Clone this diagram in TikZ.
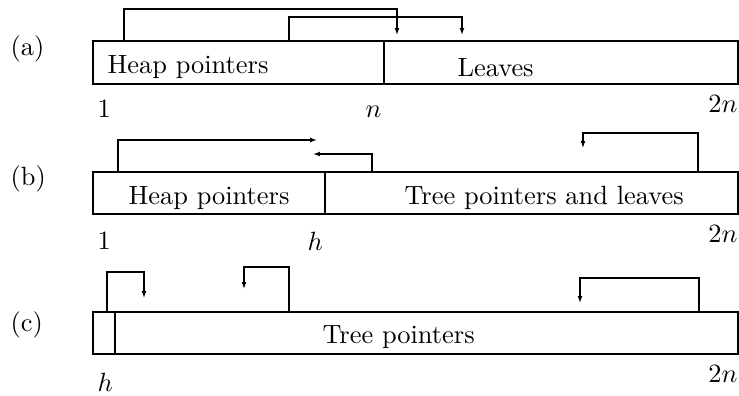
\documentclass[tikz,border=0pt]{standalone}
\usetikzlibrary{arrows.meta}
\begin{document}
\begin{tikzpicture}[x=0.3788pt,y=-0.3788pt,line width=0.45pt,
  ptr/.style={-{Latex[length=2.6pt,width=1.8pt]}},
  lbl/.style={anchor=base west,inner sep=0pt},
  rlbl/.style={anchor=base east,inner sep=0pt}]
\useasboundingbox (0,0) rectangle (739,395);
% ---------- (a)
\node[lbl] (la) at (10,55) {(a)};
\draw (93,41) rectangle (738,84);
\draw (384,41) -- (384,84);
\node[lbl] (ahp) at (107,73) {Heap pointers};
\node[lbl] (alv) at (457,76) {Leaves};
\node[lbl] (a1) at (97,117) {1};
\node[lbl] (an) at (365,117) {$n$};
\node[rlbl] (a2n) at (738,112) {$2n$};
\coordinate (aas) at (124,41); \coordinate (aat) at (397,9); \coordinate (aae) at (397,35);
\coordinate (abs) at (289,41); \coordinate (abt) at (462,17); \coordinate (abe) at (462,35);
\draw[ptr] (aas) |- (aat) -- (aae);
\draw[ptr] (abs) |- (abt) -- (abe);
% ---------- (b)
\node[lbl] (lb) at (10,185) {(b)};
\draw (93,172) rectangle (738,214);
\draw (325,172) -- (325,214);
\node[lbl] (bhp) at (128,204) {Heap pointers};
\node[lbl] (btp) at (404,204) {Tree pointers and leaves};
\node[lbl] (b1) at (97,249) {1};
\node[lbl] (bh) at (307,250) {$h$};
\node[rlbl] (b2n) at (738,242) {$2n$};
\coordinate (bas) at (118,172); \coordinate (bae) at (317,140);
\coordinate (bbs) at (372,172); \coordinate (bbe) at (313,154);
\coordinate (bcs) at (698,172); \coordinate (bct) at (583,133); \coordinate (bce) at (583,148);
\draw[ptr] (bas) |- (bae);
\draw[ptr] (bbs) |- (bbe);
\draw[ptr] (bcs) |- (bct) -- (bce);
% ---------- (c)
\node[lbl] (lc) at (10,331) {(c)};
\draw (93,312) rectangle (738,354);
\draw (115,312) -- (115,354);
\node[lbl] (ctp) at (322,343) {Tree pointers};
\node[lbl] (ch) at (97,391) {$h$};
\node[rlbl] (c2n) at (738,382) {$2n$};
\coordinate (cas) at (107,312); \coordinate (cat) at (144,272); \coordinate (cae) at (144,298);
\coordinate (cbs) at (289,312); \coordinate (cbt) at (244,267); \coordinate (cbe) at (244,289);
\coordinate (ccs) at (699,312); \coordinate (cct) at (580,278); \coordinate (cce) at (580,303);
\draw[ptr] (cas) |- (cat) -- (cae);
\draw[ptr] (cbs) |- (cbt) -- (cbe);
\draw[ptr] (ccs) |- (cct) -- (cce);
\end{tikzpicture}
\end{document}
